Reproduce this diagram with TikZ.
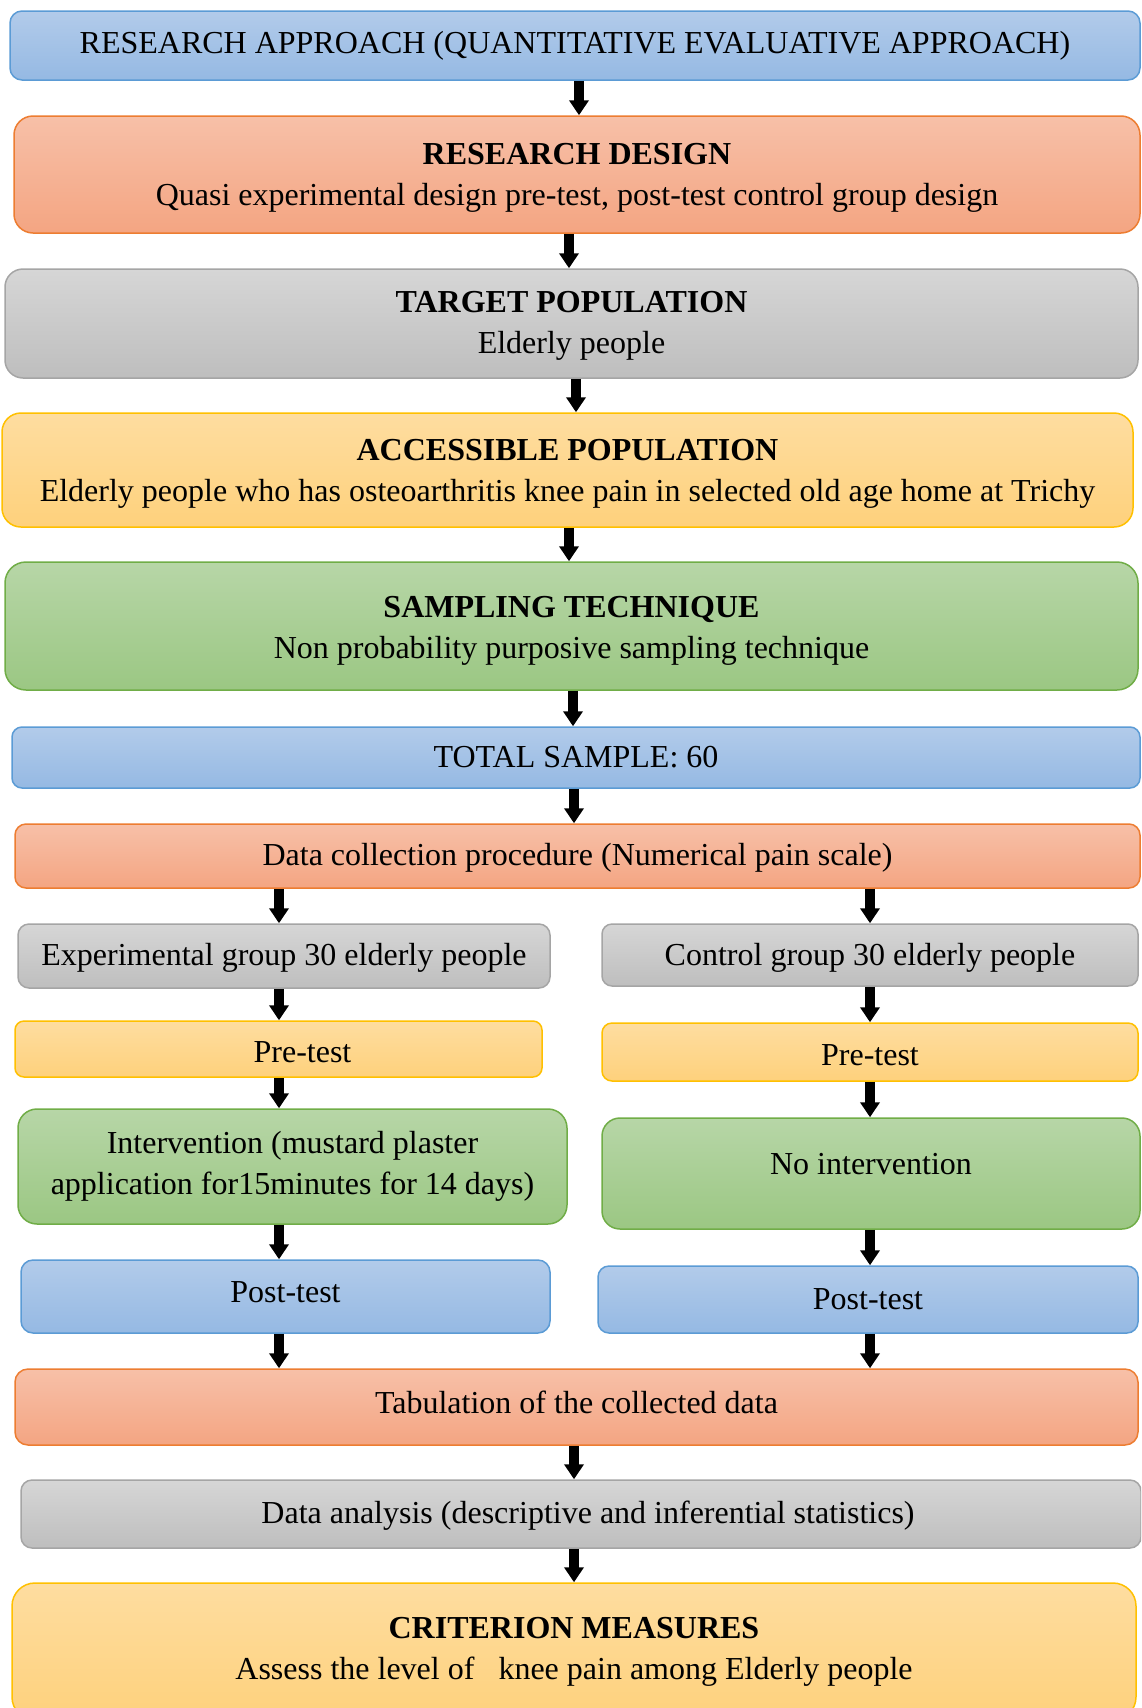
\documentclass[tikz,border=0pt]{standalone}
\usepackage{fontspec}
\setmainfont{Liberation Serif}
\usetikzlibrary{arrows.meta}
\definecolor{bluetop}{RGB}{178,203,234}
\definecolor{bluebot}{RGB}{149,185,227}
\definecolor{blueborder}{RGB}{91,155,213}
\definecolor{orangetop}{RGB}{247,192,168}
\definecolor{orangebot}{RGB}{244,165,130}
\definecolor{orangeborder}{RGB}{237,125,49}
\definecolor{graytop}{RGB}{214,214,214}
\definecolor{graybot}{RGB}{190,190,190}
\definecolor{grayborder}{RGB}{165,165,165}
\definecolor{yellowtop}{RGB}{254,221,160}
\definecolor{yellowbot}{RGB}{254,209,124}
\definecolor{yellowborder}{RGB}{255,192,0}
\definecolor{greentop}{RGB}{183,214,167}
\definecolor{greenbot}{RGB}{155,199,131}
\definecolor{greenborder}{RGB}{112,173,71}
\newcommand{\mvtext}[2]{\raisebox{#1}[\height][\depth]{#2}}
\begin{document}
\begin{tikzpicture}[x=1pt,y=-1pt,
  bx/.style={draw=#1border, top color=#1top, bottom color=#1bot, line width=1.5pt,
    inner sep=0pt, align=center, font=\fontsize{32}{41}\selectfont},
  arr/.style={line width=9.5pt, black, -{Triangle[width=19pt,length=15pt]}}]
\useasboundingbox (0,0) rectangle (1141,1708);
\clip (0,0) rectangle (1141,1708);

\node[bx=blue, rounded corners=12pt, minimum width=1130pt, minimum height=69pt] (approach) at (575,45.5)
  {RESEARCH APPROACH (QUANTITATIVE EVALUATIVE APPROACH)};
\node[bx=orange, rounded corners=19pt, minimum width=1126pt, minimum height=117pt] (design) at (577,174.5)
  {\rule{0pt}{27.8pt}\textbf{RESEARCH DESIGN}\\Quasi experimental design pre-test, post-test control group design};
\node[bx=gray, rounded corners=18pt, minimum width=1133pt, minimum height=109pt] (target) at (571.5,323.5)
  {\rule{0pt}{26.6pt}\textbf{TARGET POPULATION}\\Elderly people};
\node[bx=yellow, rounded corners=19pt, minimum width=1131pt, minimum height=114pt] (access) at (567.5,470)
  {\rule{0pt}{28.8pt}\textbf{ACCESSIBLE POPULATION}\\Elderly people who has osteoarthritis knee pain in selected old age home at Trichy};
\node[bx=green, rounded corners=21pt, minimum width=1133pt, minimum height=128pt] (sampling) at (571.5,626)
  {\rule{0pt}{30pt}\textbf{SAMPLING TECHNIQUE}\\Non probability purposive sampling technique};
\node[bx=blue, rounded corners=10pt, minimum width=1128pt, minimum height=61pt] (total) at (576,757.5)
  {TOTAL SAMPLE: 60};
\node[bx=orange, rounded corners=11pt, minimum width=1125pt, minimum height=64pt] (datacol) at (577.5,856)
  {\mvtext{-2pt}{Data collection procedure (Numerical pain scale)}};
\node[bx=gray, rounded corners=11pt, minimum width=532pt, minimum height=64pt] (expg) at (284,956)
  {\mvtext{-2pt}{Experimental group 30 elderly people}};
\node[bx=gray, rounded corners=10pt, minimum width=536pt, minimum height=62pt] (ctrlg) at (870,955)
  {\mvtext{-3pt}{Control group 30 elderly people}};
\node[bx=yellow, rounded corners=9pt, minimum width=527pt, minimum height=56pt] (preL) at (278.5,1049)
  {\hspace*{48pt}\mvtext{-3.3pt}{Pre-test}};
\node[bx=yellow, rounded corners=10pt, minimum width=536pt, minimum height=58pt] (preR) at (870,1052)
  {\mvtext{-3.3pt}{Pre-test}};
\node[bx=green, rounded corners=19pt, minimum width=549pt, minimum height=115pt] (interv) at (292.5,1166.5)
  {Intervention (mustard plaster\\application for15minutes for 14 days)};
\node[bx=green, rounded corners=18pt, minimum width=538pt, minimum height=111pt] (noint) at (871,1173.5)
  {\mvtext{9pt}{No intervention}};
\node[bx=blue, rounded corners=12pt, minimum width=529pt, minimum height=73pt] (postL) at (285.5,1296.5)
  {\mvtext{4pt}{Post-test}};
\node[bx=blue, rounded corners=11pt, minimum width=540pt, minimum height=67pt] (postR) at (868,1299.5)
  {Post-test};
\node[bx=orange, rounded corners=13pt, minimum width=1123pt, minimum height=76pt] (tab) at (576.5,1407)
  {\mvtext{5pt}{Tabulation of the collected data}};
\node[bx=gray, rounded corners=11pt, minimum width=1120pt, minimum height=68pt] (analysis) at (581,1514)
  {\hspace*{14pt}\mvtext{-2pt}{Data analysis (descriptive and inferential statistics)}};
\node[bx=yellow, rounded corners=23pt, minimum width=1124pt, minimum height=137pt] (crit) at (574,1651.5)
  {\textbf{CRITERION MEASURES}\\Assess the level of \ \ knee pain among Elderly people};

\draw[arr] (approach.south -| 579,0) -- (design.north -| 579,0);
\draw[arr] (design.south -| 569,0) -- (target.north -| 569,0);
\draw[arr] (target.south -| 576,0) -- (access.north -| 576,0);
\draw[arr] (access.south -| 569,0) -- (sampling.north -| 569,0);
\draw[arr] (sampling.south -| 573,0) -- (total.north -| 573,0);
\draw[arr] (total.south -| 574,0) -- (datacol.north -| 574,0);
\draw[arr] (datacol.south -| 279,0) -- (expg.north -| 279,0);
\draw[arr] (datacol.south -| 870,0) -- (ctrlg.north -| 870,0);
\draw[arr] (expg.south -| 279,0) -- (preL.north -| 279,0);
\draw[arr] (ctrlg.south -| 870,0) -- (preR.north -| 870,0);
\draw[arr] (preL.south -| 279,0) -- (interv.north -| 279,0);
\draw[arr] (preR.south -| 870,0) -- (noint.north -| 870,0);
\draw[arr] (interv.south -| 279,0) -- (postL.north -| 279,0);
\draw[arr] (noint.south -| 870,0) -- (postR.north -| 870,0);
\draw[arr] (postL.south -| 279,0) -- (tab.north -| 279,0);
\draw[arr] (postR.south -| 870,0) -- (tab.north -| 870,0);
\draw[arr] (tab.south -| 574,0) -- (analysis.north -| 574,0);
\draw[arr] (analysis.south -| 574,0) -- (crit.north -| 574,0);
\end{tikzpicture}
\end{document}
